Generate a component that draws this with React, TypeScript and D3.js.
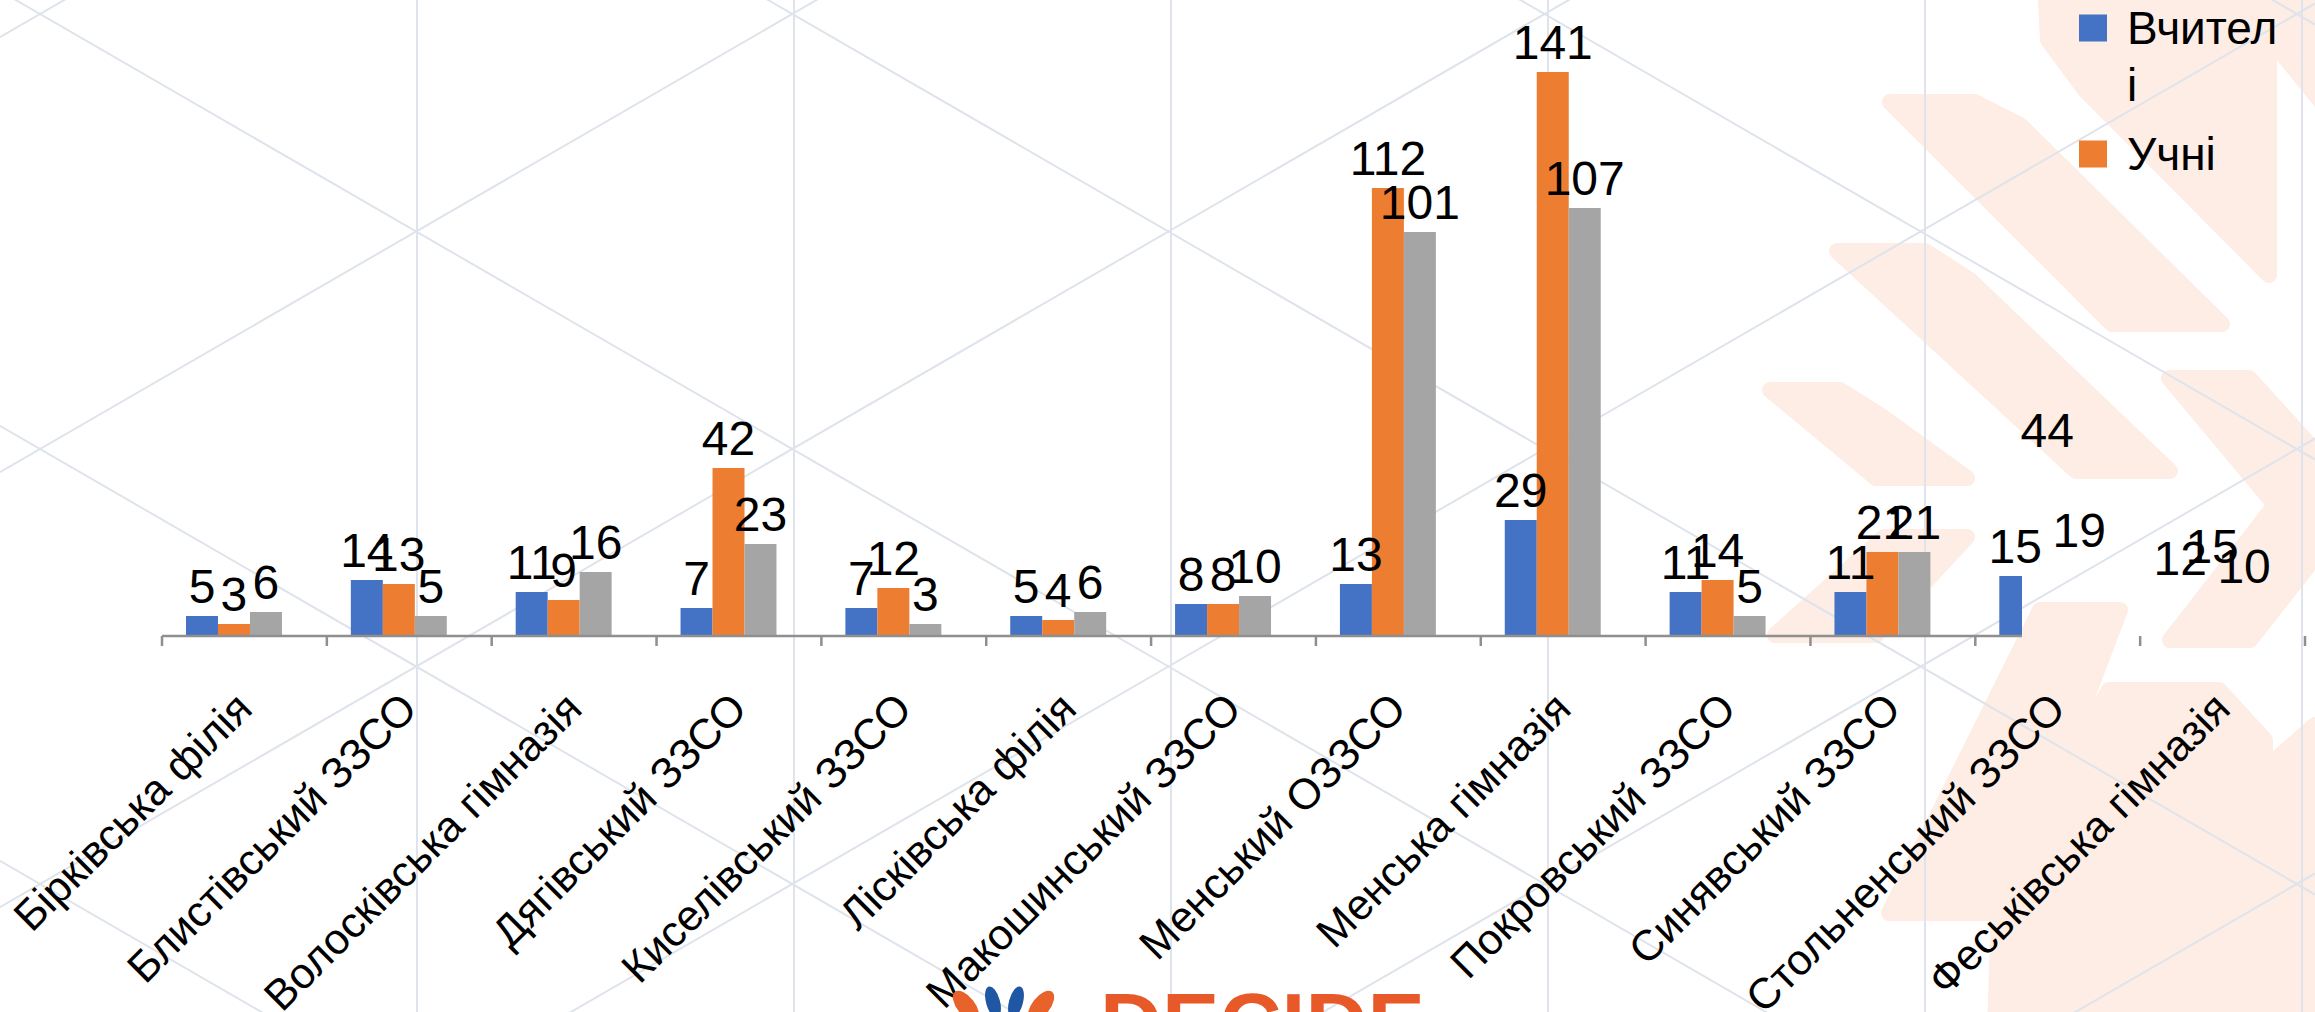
import React from 'react';
import * as d3 from 'd3';

const categories = [
  'Бірківська філія',
  'Блистівський ЗЗСО',
  'Волосківська гімназія',
  'Дягівський ЗЗСО',
  'Киселівський ЗЗСО',
  'Лісківська філія',
  'Макошинський ЗЗСО',
  'Менський ОЗЗСО',
  'Менська гімназія',
  'Покровський ЗЗСО',
  'Синявський ЗЗСО',
  'Стольненський ЗЗСО',
  'Феськівська гімназія',
];
const teachers = [5, 14, 11, 7, 7, 5, 8, 13, 29, 11, 11, 15, 12];
const students = [3, 13, 9, 42, 12, 4, 8, 112, 141, 14, 21, 44, 15];
const others = [6, 5, 16, 23, 3, 6, 10, 101, 107, 5, 21, 19, 10];
const seriesKeys = ['Вчителі', 'Учні', 'Інші'];
const seriesValues = [teachers, students, others];
const seriesColors = ['#4472C4', '#ED7D31', '#A5A5A5'];
const legendLines = [['Вчител', 'і'], ['Учні']];

const W = 2315;
const H = 1012;
const FONT = "'Liberation Sans', Arial, Helvetica, sans-serif";

// decorative background leaves (slide template)
const leaves: number[][][] = [
  [[2045, -20], [2206, -20], [2269, 50], [2269, 275], [2085, 90], [2048, 40]],
  [[2222, -20], [2340, -20], [2340, 125]],
  [[1890, 102], [1975, 102], [2020, 125], [2222, 324], [2112, 324]],
  [[1837, 251], [1925, 251], [1970, 280], [2170, 471], [2076, 471]],
  [[1770, 390], [1840, 390], [1880, 415], [1967, 478], [1876, 478]],
  [[1884, 537], [1967, 537], [1876, 635], [1775, 635]],
  [[2169, 378], [2249, 378], [2360, 500], [2250, 640], [2170, 640], [2275, 505]],
  [[2040, 610], [2120, 610], [2005, 913], [1889, 913]],
  [[2109, 690], [2219, 690], [2265, 740], [2265, 833], [2060, 1030], [1995, 1030], [2000, 880]],
  [[2041, 1030], [2041, 965], [2315, 725], [2340, 725], [2340, 1030]],
];

export default function App() {
  const x = d3.scaleBand<string>().domain(categories).range([162, 2305]).padding(0);
  const bw = x.bandwidth();
  const inner = d3
    .scaleBand<string>()
    .domain(seriesKeys)
    .range([bw * 0.1456, bw * 0.1456 + bw * 0.582])
    .padding(0);
  const y = d3.scaleLinear().domain([0, 160]).range([636, -4]);
  const base = y(0);
  const clipRight = 2022;

  // lattice lines
  const slope = 218 / 377;
  const diag: JSX.Element[] = [];
  for (let n = -6; n <= 9; n++) {
    const y0p = slope * (0 - 40) + 14 + 435 * n;
    const y1p = slope * (W - 40) + 14 + 435 * n;
    diag.push(<line key={'p' + n} x1={0} y1={y0p} x2={W} y2={y1p} />);
    const y0n = -slope * (0 - 40) + 14 + 435 * n;
    const y1n = -slope * (W - 40) + 14 + 435 * n;
    diag.push(<line key={'n' + n} x1={0} y1={y0n} x2={W} y2={y1n} />);
  }
  const verts = d3.range(0, 6).map((k) => 417 + 377 * k);

  const leafLine = d3.line().curve(d3.curveLinearClosed);
  const ticks = d3.range(0, categories.length + 1).map((i) => 162 + i * bw);

  return (
    <svg
      width={W}
      height={H}
      viewBox={`0 0 ${W} ${H}`}
      style={{ position: 'absolute', left: 0, top: 0, background: '#ffffff' }}
      fontFamily={FONT}
    >
      <defs>
        <clipPath id="plotClip">
          <rect x={0} y={-10} width={clipRight} height={base + 12} />
        </clipPath>
      </defs>
      <rect x={0} y={0} width={W} height={H} fill="#ffffff" />
      <g fill="#fdede5" stroke="#fdede5" strokeWidth={16} strokeLinejoin="round">
        {leaves.map((pts, i) => (
          <path key={i} d={leafLine(pts as [number, number][]) || ''} />
        ))}
      </g>
      <g stroke="#dfe4ec" strokeWidth={2}>
        {diag}
        {verts.map((vx) => (
          <line key={vx} x1={vx} y1={0} x2={vx} y2={H} />
        ))}
      </g>

      {/* bars */}
      <g clipPath="url(#plotClip)">
        {categories.map((c, i) => (
          <g key={c} transform={`translate(${x(c)},0)`}>
            {seriesKeys.map((s, j) => (
              <rect
                key={s}
                x={inner(s)}
                y={y(seriesValues[j][i])}
                width={inner.bandwidth()}
                height={base - y(seriesValues[j][i])}
                fill={seriesColors[j]}
              />
            ))}
          </g>
        ))}
        <line x1={162} y1={base} x2={2305} y2={base} stroke="#8f8f8f" strokeWidth={2.5} />
      </g>
      <g stroke="#8f8f8f" strokeWidth={2.5}>
        {ticks.map((t) => (
          <line key={t} x1={t} y1={base} x2={t} y2={base + 10} />
        ))}
      </g>

      {/* data labels */}
      <g fontSize={48} fill="#000" textAnchor="middle">
        {categories.map((c, i) =>
          seriesKeys.map((s, j) => (
            <text
              key={c + s}
              x={(x(c) as number) + (inner(s) as number) + inner.bandwidth() / 2}
              y={y(seriesValues[j][i]) - 13}
            >
              {seriesValues[j][i]}
            </text>
          ))
        )}
      </g>

      {/* category labels */}
      <g fontSize={43} fill="#000" textAnchor="end">
        {categories.map((c) => {
          const cx = (x(c) as number) + bw / 2 + 10;
          const cy = 711;
          return (
            <text key={c} transform={`translate(${cx},${cy}) rotate(-45)`}>
              {c}
            </text>
          );
        })}
      </g>

      {/* legend */}
      <g fontSize={46} fill="#000">
        {legendLines.map((lines, i) => {
          const top = i === 0 ? 14.5 : 140.5;
          return (
            <g key={i}>
              <rect x={2079} y={top} width={28} height={27} fill={seriesColors[i]} />
              {lines.map((ln, k) => (
                <text key={k} x={2127} y={top + 29.5 + k * 57}>
                  {ln}
                </text>
              ))}
            </g>
          );
        })}
      </g>

      {/* logo */}
      <g>
        <ellipse cx={966} cy={1006} rx={9} ry={18} fill="#e8632b" transform="rotate(-38 966 1006)" />
        <ellipse cx={993} cy={1002} rx={7} ry={16} fill="#1f57a5" transform="rotate(-15 993 1002)" />
        <ellipse cx={1016} cy={1002} rx={7} ry={16} fill="#1f57a5" transform="rotate(15 1016 1002)" />
        <ellipse cx={1041} cy={1006} rx={9} ry={18} fill="#e8632b" transform="rotate(38 1041 1006)" />
        <text x={1100} y={1053} fontSize={86} fontWeight="bold" fill="#e8592a">
          DECIDE
        </text>
      </g>
    </svg>
  );
}
